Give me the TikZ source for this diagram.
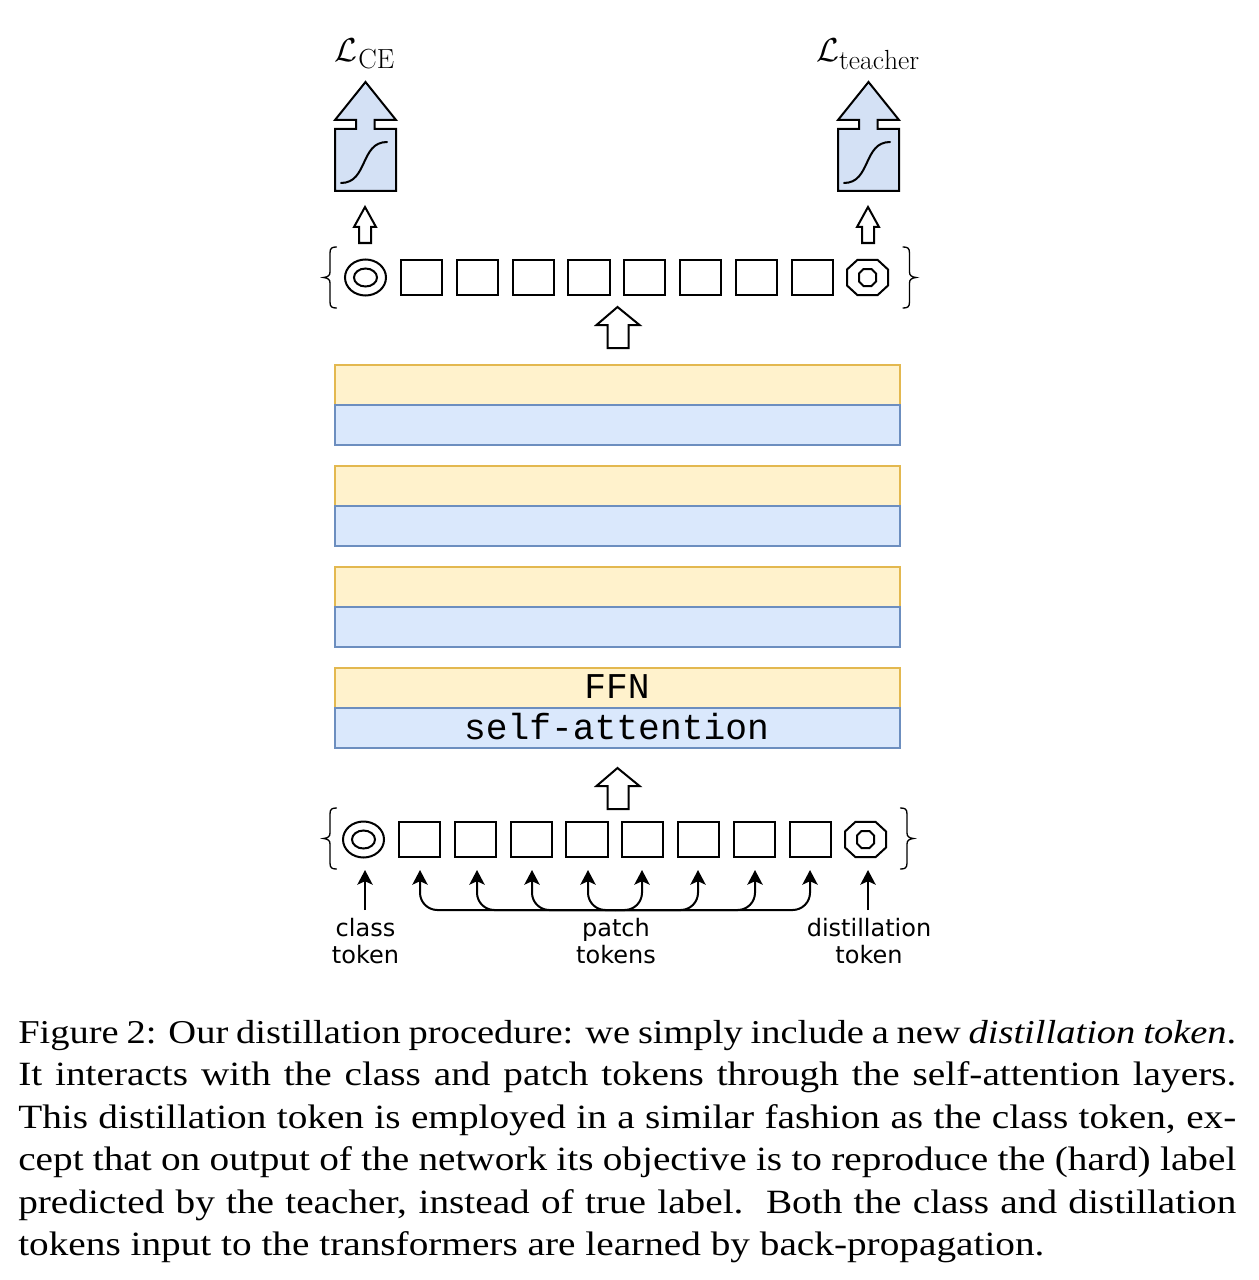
\RequirePackage{fix-cm}
\documentclass[tikz,border=0pt]{standalone}
\usepackage{fontspec}
\usetikzlibrary{arrows.meta,shapes.geometric}
\newfontfamily\capfont[FakeStretch=1.155]{Liberation Serif}
\newfontfamily\labfont{DejaVu Sans}
\newfontfamily\codefont{Liberation Mono}
\newcommand{\capline}[1]{\hbox to 913.5pt{#1}}
\definecolor{softblue}{HTML}{D4E1F5}
\definecolor{yfill}{HTML}{FFF2CC}
\definecolor{yline}{HTML}{E3B84F}
\definecolor{bfill}{HTML}{DAE8FC}
\definecolor{bline}{HTML}{6C8EBF}
\tikzset{
  px/.style={x=0.75pt,y=-0.75pt},
  stroke/.style={draw=black,line width=1.5pt,line join=miter},
  sq/.style={stroke,rectangle,inner sep=0pt,outer sep=0pt,minimum width=30.9pt,minimum height=26.6pt},
  ringo/.style={stroke,ellipse,inner sep=0pt,outer sep=0pt,minimum width=30.75pt,minimum height=27pt},
  ringi/.style={stroke,ellipse,inner sep=0pt,outer sep=0pt,minimum width=17.25pt,minimum height=13.5pt},
  ybar/.style={draw=yline,fill=yfill,line width=1.3pt,rectangle,inner sep=0pt,outer sep=0pt,minimum width=424pt,minimum height=30.4pt},
  bbar/.style={ybar,draw=bline,fill=bfill},
  thinarrow/.style={draw=black,line width=1.5pt,-{Stealth[length=11pt,width=11.5pt,inset=2.6pt]}},
  bus/.style={thinarrow,rounded corners=13pt},
  lab/.style={align=center,font=\fontsize{18}{20.6}\selectfont\labfont,inner sep=0pt},
  loss/.style={inner sep=0pt,anchor=base west,font=\fontsize{24.88}{28}\selectfont},
  code/.style={font=\fontsize{27.2}{28}\selectfont\codefont,inner sep=0pt},
  capt/.style={inner sep=0pt,anchor=base west,font=\fontsize{25.5}{30}\selectfont\capfont},
  bigup/.pic={\draw[stroke] (0,0)--(22,18)--(11,18)--(11,41)--(-10,41)--(-10,18)--(-21,18)--cycle;},
  smallup/.pic={\draw[stroke] (0,0)--(11,20)--(6,20)--(6,36)--(-6,36)--(-6,20)--(-11,20)--cycle;},
  softmax/.pic={
    \draw[stroke,fill=softblue] (0,47)--(21,47)--(21,38)--(0,38)--(30.5,0)--(61,38)--(39.5,38)--(39.5,47)--(61,47)--(61,109)--(0,109)--cycle;
    \draw[line width=1.5pt,line cap=round] (6,101) .. controls (33,101) and (25,60) .. (52,60);
  },
  octagon/.pic={
    \draw[stroke] (-10,-17.7)--(10,-17.7)--(20.5,-8)--(20.5,8)--(10,17.7)--(-10,17.7)--(-20.5,8)--(-20.5,-8)--cycle;
    \draw[stroke] (-4,-8.5)--(4,-8.5)--(8.5,-4)--(8.5,4)--(4,8.5)--(-4,8.5)--(-8.5,4)--(-8.5,-4)--cycle;
  },
  bracel/.pic={\draw[line width=1pt,line cap=round] (13.5,0) .. controls (9,0) and (7,1) .. (7,6)--(7,25) .. controls (7,28.5) and (5,30) .. (0.5,30.5) .. controls (5,31) and (7,32.5) .. (7,36)--(7,55) .. controls (7,60) and (9,61) .. (13.5,61);},
  bracer/.pic={\draw[line width=1pt,line cap=round] (0,0) .. controls (4.5,0) and (6.5,1) .. (6.5,6)--(6.5,25) .. controls (6.5,28.5) and (8.5,30) .. (13,30.5) .. controls (8.5,31) and (6.5,32.5) .. (6.5,36)--(6.5,55) .. controls (6.5,60) and (4.5,61) .. (0,61);},
}
\begin{document}
\begin{tikzpicture}[px]
\useasboundingbox (0,0) rectangle (1258,1280);

% Losses and softmax heads
\node[loss] (lce) at (334,62) {$\mathcal{L}$\kern1pt\raisebox{-5pt}{$\scriptstyle\mathrm{CE}$}};
\node[loss] (lteach) at (816,62) {$\mathcal{L}$\raisebox{-5.5pt}{$\scriptstyle\mathrm{teacher}$}};
\pic at (335,82) {softmax};
\pic at (838,82) {softmax};
\pic at (365,207) {smallup};
\pic at (868,207) {smallup};

% Output tokens
\pic at (323,247) {bracel};
\node[ringo] (oe) at (365.5,277.5) {};
\node[ringi] (oei) at (365.5,277.5) {};
\foreach \i/\cx in {1/421.5,2/477.3,3/533.2,4/589,5/644.8,6/700.7,7/756.5,8/812.3}
  \node[sq] (o\i) at (\cx,277.5) {};
\pic at (867.5,277.5) {octagon};
\pic at (903,247) {bracer};
\pic at (617.5,307) {bigup};

% Transformer blocks
\foreach \n/\yy in {a/385,b/486,c/587,d/688}{
  \pgfmathsetmacro{\yb}{\yy+40}
  \node[ybar] (y\n) at (617.3,\yy) {};
  \node[bbar] (b\n) at (617.3,\yb) {};
}
\node[code] (tffn) at (617,687) {FFN};
\node[code] (tsa) at (616.5,727) {self-attention};
\pic at (617.5,768) {bigup};

% Input tokens
\pic at (323,808) {bracel};
\node[ringo] (ie) at (363.5,839.5) {};
\node[ringi] (iei) at (363.5,839.5) {};
\foreach \i/\cx in {1/419.5,2/475.3,3/531.2,4/587,5/642.8,6/698.7,7/754.5,8/810.3}
  \node[sq] (i\i) at (\cx,839.5) {};
\pic at (865.5,839.5) {octagon};
\pic at (900.5,808) {bracer};

% Labels
\node[lab] (lclass) at (365.5,941) {class\\token};
\node[lab] (lpatch) at (616,941) {patch\\tokens};
\node[lab] (ldist) at (869,941) {distillation\\token};

% Connectors
\coordinate (cfoot) at (365,910);
\coordinate (ctip) at (365,870);
\coordinate (dfoot) at (868,910);
\coordinate (dtip) at (868,870);
\draw[thinarrow] (cfoot) -- (ctip);
\draw[thinarrow] (dfoot) -- (dtip);
\coordinate (busc) at (615,910);
\foreach \i/\cx in {1/420,2/477,3/532,4/588,5/642,6/698,7/755,8/810}{
  \coordinate (t\i) at (\cx,870);
  \draw[bus] (busc) -| (t\i);
}

% Caption
\node[capt] (c1) at (18,1043) {\fontsize{25}{30}\selectfont\capline{Figure 2: Our distillation procedure: we simply include a new \textit{distillation token}.}};
\node[capt] (c2) at (18,1085.5) {\capline{It interacts with the class and patch tokens through the self-attention layers.}};
\node[capt] (c3) at (18,1128) {\capline{This distillation token is employed in a similar fashion as the class token, ex-}};
\node[capt] (c4) at (18,1170) {\capline{cept that on output of the network its objective is to reproduce the (hard) label}};
\node[capt] (c5) at (18,1213) {\capline{predicted by the teacher, instead of true label.\ \ Both the class and distillation}};
\node[capt] (c6) at (18,1255) {tokens input to the transformers are learned by back-propagation.};
\end{tikzpicture}
\end{document}
